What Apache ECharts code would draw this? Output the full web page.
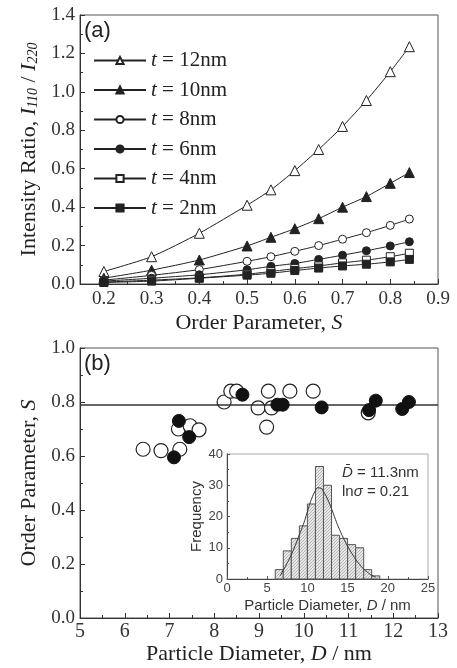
<!DOCTYPE html>
<html>
<head>
<meta charset="utf-8">
<script src="https://cdn.jsdelivr.net/npm/echarts@6/dist/echarts.min.js"></script>
<style>
  html, body { margin: 0; padding: 0; background: #fff; }
  #chart { width: 457px; height: 668px; }
</style>
</head>
<body>
<div id="chart"></div>
<script>
// panel (a): intensity ratio vs order parameter
const orderParam = [0.2, 0.3, 0.4, 0.5, 0.55, 0.6, 0.65, 0.7, 0.75, 0.8, 0.84]
const ratio12 = [0.065, 0.142, 0.264, 0.41, 0.49, 0.59, 0.70, 0.82, 0.955, 1.105, 1.235]
const ratio10 = [0.03, 0.072, 0.125, 0.198, 0.243, 0.288, 0.34, 0.40, 0.455, 0.524, 0.58]
const ratio8 = [0.02, 0.045, 0.075, 0.118, 0.142, 0.17, 0.20, 0.233, 0.267, 0.305, 0.338]
const ratio6 = [0.015, 0.03, 0.048, 0.074, 0.092, 0.107, 0.128, 0.15, 0.173, 0.198, 0.22]
const ratio4 = [0.01, 0.02, 0.032, 0.051, 0.065, 0.08, 0.094, 0.11, 0.124, 0.142, 0.16]
const ratio2 = [0.008, 0.015, 0.03, 0.046, 0.056, 0.07, 0.083, 0.094, 0.103, 0.115, 0.128]

// panel (b): order parameter vs particle diameter
const openPts = [[6.41, 0.625], [6.81, 0.62], [7.23, 0.625], [7.2, 0.70], [7.46, 0.712], [7.66, 0.697],
  [8.22, 0.80], [8.37, 0.84], [8.50, 0.84], [8.98, 0.778], [9.21, 0.84], [9.28, 0.778], [9.17, 0.707],
  [9.69, 0.84], [10.21, 0.84], [11.44, 0.76]]
const filledPts = [[7.10, 0.595], [7.21, 0.73], [7.44, 0.67], [8.63, 0.827], [9.41, 0.79], [9.53, 0.79],
  [10.40, 0.78], [11.46, 0.77], [11.61, 0.805], [12.20, 0.774], [12.35, 0.80]]
const meanS = 0.79

// inset: size histogram + fitted curve
const binStart = [6, 7, 8, 9, 10, 11, 12, 13, 14, 15, 16, 17, 18]
const binCount = [3, 9, 13, 17, 24, 36, 30, 14, 13, 11, 10, 3, 1]
const fitD = [6.6, 7.0, 7.5, 8.0, 8.5, 9.0, 9.5, 10.0, 10.5, 11.0, 11.3, 11.7, 12.0, 12.5, 13.0, 13.5, 14.0, 14.5, 15.0, 15.5, 16.0, 16.5, 17.0, 17.5, 18.0, 18.5]
const fitF = [1.0, 2.8, 5.2, 7.8, 10.8, 14.2, 17.5, 21.5, 25.5, 28.3, 29.2, 29.0, 28.0, 25.6, 22.5, 19.0, 15.8, 13.0, 10.5, 8.3, 6.3, 4.6, 3.2, 2.1, 1.2, 0.6]

const SERIF = 'Liberation Serif'
const SANS = 'Liberation Sans'
const INK = '#222'

const chart = echarts.init(document.getElementById('chart'), null, { renderer: 'canvas' })

// stipple fill for histogram bars
const pat = document.createElement('canvas')
pat.width = 3; pat.height = 3
const pctx = pat.getContext('2d')
pctx.fillStyle = '#e8e8e8'; pctx.fillRect(0, 0, 3, 3)
pctx.fillStyle = '#b5b5b5'; pctx.fillRect(0, 0, 1, 1); pctx.fillRect(2, 1, 1, 1); pctx.fillRect(1, 2, 1, 1)

const legendRich = {
  i: { fontFamily: SERIF, fontSize: 21, fontStyle: 'italic', color: INK },
  n: { fontFamily: SERIF, fontSize: 21, color: INK },
}
const nameRich = (size, fam, col) => ({ i: { fontFamily: fam, fontSize: size, fontStyle: 'italic', color: col } })

const mainTick = { show: true, inside: true, length: 5, lineStyle: { color: '#333' } }
const mainMinor = { show: true, splitNumber: 2, length: 3, lineStyle: { color: '#333' } }
const mainLabel = { fontFamily: SERIF, fontSize: 19, color: '#333' }

const curve = (name, data, symbol, open, size) => ({
  name,
  type: 'line',
  xAxisIndex: 0, yAxisIndex: 0,
  data: orderParam.map((s, i) => [s, data[i]]),
  symbol, symbolSize: size,
  showAllSymbol: true,
  lineStyle: { color: INK, width: 1 },
  itemStyle: open ? { color: '#fff', borderColor: INK, borderWidth: 1 } : { color: INK, borderColor: INK, borderWidth: 1 },
  smooth: 0.2,
  z: 3,
})

const option = {
  animation: false,
  backgroundColor: '#fff',
  grid: [
    { left: 80, right: 19, top: 15, height: 269, show: true, borderColor: '#555', borderWidth: 1 },
    { left: 80, right: 19, top: 348, height: 270, show: true, borderColor: '#555', borderWidth: 1 },
    { left: 227, top: 454, width: 201, height: 125, show: true, borderColor: '#aaa', borderWidth: 1, backgroundColor: '#fff' },
  ],
  legend: {
    orient: 'vertical',
    left: 93, top: 50, padding: 0,
    itemWidth: 52, itemHeight: 9, itemGap: 8.5,
    selectedMode: false,
    data: ['t = 12nm', 't = 10nm', 't = 8nm', 't = 6nm', 't = 4nm', 't = 2nm'],
    formatter: n => '{i|t}{n|' + n.slice(1) + '}',
    textStyle: { rich: legendRich },
  },
  title: [
    { text: '(a)', left: 84, top: 20, padding: 0, textStyle: { fontFamily: SANS, fontSize: 22, fontWeight: 'normal', color: INK } },
    { text: '(b)', left: 84, top: 353, padding: 0, textStyle: { fontFamily: SANS, fontSize: 22, fontWeight: 'normal', color: INK } },
  ],
  graphic: [
    { type: 'text', left: 342, top: 465, style: { text: '{d|D\u0304} = 11.3nm', font: '15px ' + SANS, fill: '#333',
      rich: { d: { fontFamily: SANS, fontSize: 15, fontStyle: 'italic', fill: '#333' } } } },
    { type: 'text', left: 342, top: 484, style: { text: 'ln{s|\u03c3} = 0.21', font: '15px ' + SANS, fill: '#333',
      rich: { s: { fontFamily: SANS, fontSize: 15, fontStyle: 'italic', fill: '#333' } } } },
  ],
  xAxis: [
    {
      gridIndex: 0, type: 'value', min: 0.15, max: 0.9, splitNumber: 7,
      name: 'Order Parameter, {i|S}', nameLocation: 'middle', nameGap: 28,
      nameTextStyle: { fontFamily: SERIF, fontSize: 22, color: INK, rich: nameRich(22, SERIF, INK) },
      axisLine: { lineStyle: { color: '#333' } },
      axisTick: mainTick, minorTick: mainMinor,
      axisLabel: { ...mainLabel, margin: 6, showMinLabel: false, formatter: v => v.toFixed(1) },
      splitLine: { show: false },
    },
    {
      gridIndex: 1, type: 'value', min: 5, max: 13, interval: 1,
      name: 'Particle Diameter, {i|D} / nm', nameLocation: 'middle', nameGap: 25,
      nameTextStyle: { fontFamily: SERIF, fontSize: 22, color: INK, rich: nameRich(22, SERIF, INK) },
      axisLine: { lineStyle: { color: '#333' } },
      axisTick: mainTick, minorTick: mainMinor,
      axisLabel: { ...mainLabel, fontSize: 20, margin: 4 },
      splitLine: { show: false },
    },
    {
      gridIndex: 2, type: 'value', min: 0, max: 25, interval: 5,
      name: 'Particle Diameter, {i|D} / nm', nameLocation: 'middle', nameGap: 19,
      nameTextStyle: { fontFamily: SANS, fontSize: 15, color: '#333', rich: nameRich(15, SANS, '#333') },
      axisLine: { lineStyle: { color: '#444' } },
      axisTick: { show: true, inside: true, length: 3, lineStyle: { color: '#555' } },
      minorTick: { show: true, splitNumber: 2, length: 2, lineStyle: { color: '#555' } },
      axisLabel: { fontFamily: SANS, fontSize: 13, color: '#444', margin: 3 },
      splitLine: { show: false },
    },
  ],
  yAxis: [
    {
      gridIndex: 0, type: 'value', min: 0, max: 1.4, interval: 0.2,
      name: 'Intensity Ratio, {i|I}{s|110}{n| / }{i|I}{s|220}', nameLocation: 'middle', nameGap: 40,
      nameTextStyle: {
        fontFamily: SERIF, fontSize: 22, color: INK,
        rich: {
          i: { fontFamily: SERIF, fontSize: 22, fontStyle: 'italic', color: INK },
          n: { fontFamily: SERIF, fontSize: 22, color: INK },
          s: { fontFamily: SERIF, fontSize: 14, fontStyle: 'italic', color: INK, verticalAlign: 'bottom' },
        },
      },
      axisLine: { lineStyle: { color: '#333' } },
      axisTick: mainTick, minorTick: mainMinor,
      axisLabel: { ...mainLabel, margin: 5, formatter: v => v.toFixed(1) },
      splitLine: { show: false },
    },
    {
      gridIndex: 1, type: 'value', min: 0, max: 1.0, interval: 0.2,
      name: 'Order Parameter, {i|S}', nameLocation: 'middle', nameGap: 40,
      nameTextStyle: { fontFamily: SERIF, fontSize: 22, color: INK, rich: nameRich(22, SERIF, INK) },
      axisLine: { lineStyle: { color: '#333' } },
      axisTick: mainTick, minorTick: mainMinor,
      axisLabel: { ...mainLabel, margin: 5, formatter: v => v.toFixed(1) },
      splitLine: { show: false },
    },
    {
      gridIndex: 2, type: 'value', min: 0, max: 40, interval: 10,
      name: 'Frequency', nameLocation: 'middle', nameGap: 20,
      nameTextStyle: { fontFamily: SANS, fontSize: 15, color: '#333' },
      axisLine: { lineStyle: { color: '#444' } },
      axisTick: { show: true, inside: true, length: 3, lineStyle: { color: '#555' } },
      minorTick: { show: true, splitNumber: 2, length: 2, lineStyle: { color: '#555' } },
      axisLabel: { fontFamily: SANS, fontSize: 13, color: '#444', margin: 4 },
      splitLine: { show: false },
    },
  ],
  series: [
    curve('t = 12nm', ratio12, 'triangle', true, 10),
    curve('t = 10nm', ratio10, 'triangle', false, 10),
    curve('t = 8nm', ratio8, 'circle', true, 8),
    curve('t = 6nm', ratio6, 'circle', false, 8),
    curve('t = 4nm', ratio4, 'rect', true, 8),
    curve('t = 2nm', ratio2, 'rect', false, 8),
    {
      name: 'mean', type: 'line', xAxisIndex: 1, yAxisIndex: 1, data: [],
      markLine: {
        silent: true, symbol: 'none', label: { show: false },
        lineStyle: { color: '#333', width: 1.5, type: 'solid' },
        data: [{ yAxis: meanS }],
      },
    },
    {
      name: 'open', type: 'scatter', xAxisIndex: 1, yAxisIndex: 1,
      data: openPts, symbol: 'circle', symbolSize: 14,
      itemStyle: { color: '#fff', borderColor: INK, borderWidth: 1.2, opacity: 1 },
      z: 4,
    },
    {
      name: 'filled', type: 'scatter', xAxisIndex: 1, yAxisIndex: 1,
      data: filledPts, symbol: 'circle', symbolSize: 13,
      itemStyle: { color: '#111', borderColor: '#111', borderWidth: 1, opacity: 1 },
      z: 5,
    },
    {
      name: 'hist', type: 'custom', xAxisIndex: 2, yAxisIndex: 2,
      data: binStart.map((b, i) => [b, b + 1, binCount[i]]),
      encode: { x: [0, 1], y: 2 },
      renderItem: (params, api) => {
        const p0 = api.coord([api.value(0), 0])
        const p1 = api.coord([api.value(1), api.value(2)])
        return {
          type: 'rect',
          shape: { x: p0[0], y: p1[1], width: p1[0] - p0[0], height: p0[1] - p1[1] },
          style: { fill: { image: pat, repeat: 'repeat' }, stroke: '#555', lineWidth: 1 },
        }
      },
      z: 6,
    },
    {
      name: 'fit', type: 'line', xAxisIndex: 2, yAxisIndex: 2,
      data: fitD.map((d, i) => [d, fitF[i]]),
      symbol: 'none', smooth: true,
      lineStyle: { color: '#333', width: 1 },
      z: 7,
    },
  ],
}

chart.setOption(option)
window.addEventListener('resize', () => chart.resize())
</script>
</body>
</html>
